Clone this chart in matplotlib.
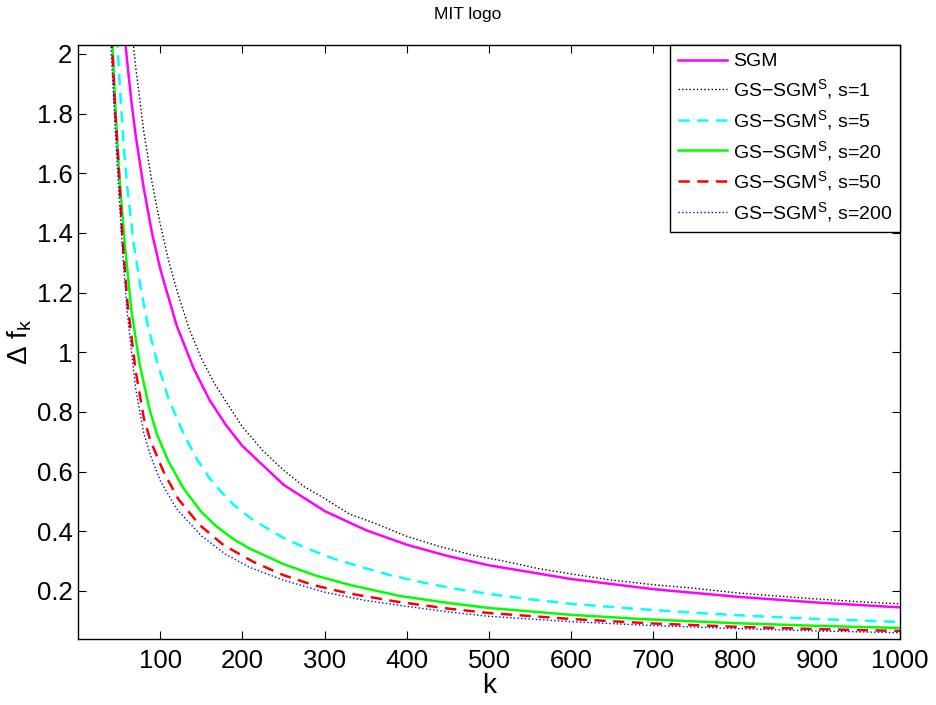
import matplotlib
matplotlib.use('Agg')
import matplotlib.pyplot as plt

plt.rcParams['font.family'] = ['Liberation Sans', 'DejaVu Sans']
plt.rcParams['mathtext.fontset'] = 'custom'
plt.rcParams['mathtext.rm'] = 'Liberation Sans'
plt.rcParams['mathtext.it'] = 'Liberation Sans'

# values
k_sgm = [48, 55, 60, 65, 70, 80, 90, 100, 120, 140, 160, 180, 200, 250, 300, 350, 400, 450, 500, 600, 700, 800, 900, 1000]
sgm = [2.34, 2.11, 1.97, 1.84, 1.73, 1.55, 1.40, 1.28, 1.09, 0.95, 0.84, 0.756, 0.686, 0.556, 0.468, 0.404, 0.355, 0.317, 0.286, 0.240, 0.206, 0.181, 0.161, 0.145]

k_s1 = [58, 62, 66, 70, 75, 80, 90, 100, 110, 120, 135, 150, 165, 180, 200, 225, 250, 275, 300, 330, 360, 400, 440, 480, 520, 560, 600, 650, 700, 750, 800, 850, 900, 950, 1000]
s1 = [2.31, 2.18, 2.07, 1.96, 1.85, 1.74, 1.57, 1.43, 1.31, 1.21, 1.08, 0.98, 0.90, 0.835, 0.75, 0.67, 0.605, 0.55, 0.51, 0.458, 0.428, 0.383, 0.349, 0.320, 0.299, 0.275, 0.257, 0.236, 0.221, 0.209, 0.194, 0.183, 0.173, 0.164, 0.157]

k_s5 = [44, 48, 52, 56, 60, 68, 76, 85, 95, 110, 128, 145, 160, 175, 190, 210, 230, 250, 274, 310, 350, 380, 420, 460, 500, 550, 600, 684, 750, 800, 900, 1000]
s5 = [2.22, 2.03, 1.84, 1.68, 1.55, 1.36, 1.22, 1.09, 0.98, 0.845, 0.73, 0.64, 0.578, 0.53, 0.487, 0.444, 0.41, 0.378, 0.348, 0.309, 0.276, 0.253, 0.228, 0.207, 0.19, 0.172, 0.157, 0.139, 0.127, 0.119, 0.106, 0.096]

k_s20 = [38, 42, 45, 50, 57, 65, 75, 87, 96, 110, 128, 150, 169, 190, 209, 250, 290, 331, 392, 450, 500, 600, 684, 800, 900, 1000]
s20 = [2.3, 2.03, 1.85, 1.60, 1.36, 1.14, 0.96, 0.81, 0.725, 0.635, 0.545, 0.465, 0.415, 0.372, 0.342, 0.290, 0.251, 0.220, 0.183, 0.160, 0.143, 0.120, 0.106, 0.092, 0.083, 0.076]

k_s50 = [37, 41.6, 45, 50, 54, 60, 70, 80, 88, 104, 122, 148, 177, 213, 250, 286, 329, 388, 450, 500, 600, 700, 800, 900, 1000]
s50 = [2.3, 2.03, 1.82, 1.60, 1.383, 1.17, 0.94, 0.78, 0.705, 0.600, 0.508, 0.421, 0.354, 0.298, 0.253, 0.220, 0.192, 0.164, 0.141, 0.126, 0.106, 0.091, 0.080, 0.072, 0.066]

k_s200 = [36, 40, 45, 50, 55, 60, 70, 80, 88, 100, 120, 150, 180, 209, 250, 300, 350, 388, 450, 500, 600, 700, 800, 900, 1000]
s200 = [2.3, 2.03, 1.76, 1.52, 1.31, 1.13, 0.88, 0.73, 0.655, 0.57, 0.475, 0.385, 0.322, 0.279, 0.236, 0.196, 0.168, 0.153, 0.130, 0.115, 0.097, 0.084, 0.074, 0.066, 0.060]

labels = ['SGM', 'GS$-$SGM$^{\\rm S}$, s=1', 'GS$-$SGM$^{\\rm S}$, s=5', 'GS$-$SGM$^{\\rm S}$, s=20',
          'GS$-$SGM$^{\\rm S}$, s=50', 'GS$-$SGM$^{\\rm S}$, s=200']
xticks = [100, 200, 300, 400, 500, 600, 700, 800, 900, 1000]
yticks = [0.2, 0.4, 0.6, 0.8, 1.0, 1.2, 1.4, 1.6, 1.8, 2.0]

fig = plt.figure(figsize=(9.36, 7.05), dpi=100)
ax = fig.add_axes([78 / 936, 1 - 639 / 705, 822 / 936, 594 / 705])

ax.plot(k_sgm, sgm, color='#ff00ff', lw=1.8, label=labels[0])
ax.plot(k_s1, s1, color='black', lw=1.0, ls=':', label=labels[1])
ax.plot(k_s5, s5, color='#00ffff', lw=1.8, dashes=(4.5, 3), label=labels[2])
ax.plot(k_s20, s20, color='#00ff00', lw=1.8, label=labels[3])
ax.plot(k_s50, s50, color='#ff0000', lw=1.8, dashes=(4.5, 3), label=labels[4])
ax.plot(k_s200, s200, color='#0000ff', lw=1.0, ls=':', label=labels[5])

ax.set_xlim(0, 1000)
ax.set_ylim(0.039, 2.03)
ax.set_xticks(xticks)
ax.set_yticks(yticks)
ax.set_yticklabels(['%g' % v for v in yticks])
ax.tick_params(direction='in', length=6, width=0.8, top=True, right=True, labelsize=18.5)
ax.tick_params(axis='x', pad=7)
ax.tick_params(axis='y', pad=4)
for sp in ax.spines.values():
    sp.set_linewidth(1.0)

ax.set_xlabel('k', fontsize=20, labelpad=0)
ax.set_ylabel('$\\Delta$ f$_{\\rm k}$', fontsize=20, labelpad=2)
fig.text(0.5, 1 - 14 / 705, 'MIT logo', ha='center', va='center', fontsize=12.5)

leg = ax.legend(loc='upper right', borderaxespad=0, fontsize=14, fancybox=False,
                edgecolor='black', framealpha=1, handlelength=2.5, handletextpad=0.3,
                labelspacing=0.35, borderpad=0.4)
leg.get_frame().set_linewidth(1.0)

fig.savefig('out.png', dpi=100)
